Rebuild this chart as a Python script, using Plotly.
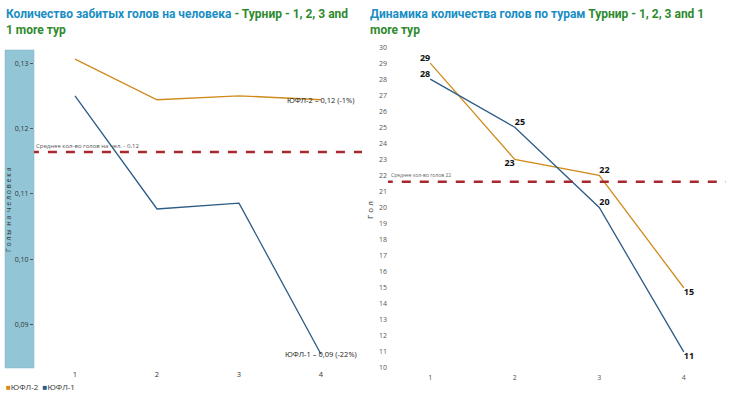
import plotly.graph_objects as go

rounds = [1, 2, 3, 4]
tick_labels = ["1", "2", "3", "4"]

# Left: goals per person
per_person_yufl2 = [0.1306, 0.1244, 0.1250, 0.1244]
per_person_yufl1 = [0.1250, 0.1077, 0.1086, 0.0855]
per_person_mean = 0.1164

# Right: goals per round
goals_yufl2 = [29, 23, 22, 15]
goals_yufl1 = [28, 25, 20, 11]
goals_mean = 21.6

ORANGE = "#d08a1c"
BLUE = "#2c5b86"
MEANC = "#a8282e"
FONT = "Open Sans"
TFONT = "Roboto"

W, H = 730, 395
def px(x):
    return x / W
def py(y):
    return 1 - y / H

fig = go.Figure()

# left series
fig.add_trace(go.Scatter(x=rounds, y=per_person_yufl2, mode="lines", line=dict(color=ORANGE, width=1.3),
                         xaxis="x", yaxis="y", name="ЮФЛ-2", showlegend=False))
fig.add_trace(go.Scatter(x=rounds, y=per_person_yufl1, mode="lines", line=dict(color=BLUE, width=1.3),
                         xaxis="x", yaxis="y", name="ЮФЛ-1", showlegend=False))
fig.add_trace(go.Scatter(x=[0.45, 4.6], y=[per_person_mean] * 2, mode="lines",
                         line=dict(color=MEANC, width=2.5, dash="dash"),
                         xaxis="x", yaxis="y", showlegend=False, hoverinfo="skip"))

# right series
pos2 = ["top left", "bottom left", "top right", "bottom right"]
pos1 = ["top left", "top right", "top right", "bottom right"]
fig.add_trace(go.Scatter(x=rounds, y=goals_yufl2, mode="lines+text", line=dict(color=ORANGE, width=1.3),
                         text=["<b>%d</b>" % v for v in goals_yufl2], textposition=pos2,
                         textfont=dict(size=9, color="#111", family=FONT),
                         xaxis="x2", yaxis="y2", showlegend=False))
fig.add_trace(go.Scatter(x=rounds, y=goals_yufl1, mode="lines+text", line=dict(color=BLUE, width=1.3),
                         text=["<b>%d</b>" % v for v in goals_yufl1], textposition=pos1,
                         textfont=dict(size=9, color="#111", family=FONT),
                         xaxis="x2", yaxis="y2", showlegend=False))
fig.add_trace(go.Scatter(x=[0.45, 4.6], y=[goals_mean] * 2, mode="lines",
                         line=dict(color=MEANC, width=2.5, dash="dash"),
                         xaxis="x2", yaxis="y2", showlegend=False, hoverinfo="skip"))

axis_common = dict(showgrid=False, zeroline=False, showline=False)

fig.update_layout(
    width=W, height=H,
    margin=dict(l=0, r=0, t=0, b=0),
    paper_bgcolor="white", plot_bgcolor="white",
    separators=", ",
    font=dict(family=FONT, size=8, color="#444"),
    xaxis=dict(domain=[px(34), px(362)], range=[0.5, 4.5], tickvals=rounds, ticktext=tick_labels,
               tickfont=dict(size=7.5, color="#333"), **axis_common),
    yaxis=dict(domain=[py(368), py(50)], range=[0.0834, 0.1320], tickvals=[0.09, 0.10, 0.11, 0.12, 0.13],
               tickformat=".2f", ticks="outside", ticklen=3, tickcolor="#555",
               tickfont=dict(size=7, color="#333"), anchor="x", **axis_common),
    xaxis2=dict(domain=[px(388), px(726)], range=[0.5, 4.5], tickvals=rounds, ticktext=tick_labels,
                tickfont=dict(size=7, color="#555"), anchor="y2", **axis_common),
    yaxis2=dict(domain=[py(372), py(40)], range=[9.75, 30.44], tickvals=list(range(10, 31)),
                tickfont=dict(size=7, color="#555"), anchor="x2", **axis_common),
)

# left blue band for y axis
fig.add_shape(type="rect", xref="paper", yref="paper", x0=px(5), x1=px(34), y0=py(368), y1=py(50),
              fillcolor="#92c6d6", line=dict(width=0.5, color="#7fb3c4"), layer="below")

# titles
fig.add_annotation(xref="paper", yref="paper", x=px(4), y=py(5), xanchor="left", yanchor="top", align="left",
                   showarrow=False, font=dict(size=12, family=TFONT),
                   text="<b><span style='color:#1a8ec4'>Количество забитых голов на человека</span>"
                        "<span style='color:#2e8a2e'> - Турнир - 1, 2, 3 and<br>1 more тур</span></b>")
fig.add_annotation(xref="paper", yref="paper", x=px(368), y=py(5), xanchor="left", yanchor="top", align="left",
                   showarrow=False, font=dict(size=12, family=TFONT),
                   text="<b><span style='color:#1a8ec4'>Динамика количества голов по турам</span>"
                        "<span style='color:#2e8a2e'> Турнир - 1, 2, 3 and 1<br>more тур</span></b>")

# axis titles
fig.add_annotation(xref="paper", yref="paper", x=px(9), y=py(210), xanchor="center", yanchor="middle",
                   textangle=-90, showarrow=False,
                   text="Г о л ы  н а  ч е л о в е к а", font=dict(size=7, color="#333"))
fig.add_annotation(xref="paper", yref="paper", x=px(370), y=py(210), xanchor="center", yanchor="middle",
                   textangle=-90, showarrow=False,
                   text="Г о л", font=dict(size=8, color="#333"))

# mean labels
fig.add_annotation(xref="paper", yref="y", x=px(34), y=per_person_mean, xanchor="left", yanchor="bottom",
                   showarrow=False, text="Среднее кол-во голов на чел. - 0,12", font=dict(size=6, color="#555"))
fig.add_annotation(xref="paper", yref="y2", x=px(389), y=goals_mean, xanchor="left", yanchor="bottom",
                   showarrow=False, text="Среднее кол-во голов 22", font=dict(size=5, color="#666"),
                   yshift=1)

# end labels left
fig.add_annotation(xref="x", yref="y", x=4, y=per_person_yufl2[-1], xanchor="center", yanchor="middle",
                   showarrow=False, xshift=0, text="ЮФЛ-2 – 0,12 (-1%)", font=dict(size=7.5, color="#222"))
fig.add_annotation(xref="x", yref="y", x=4, y=per_person_yufl1[-1], xanchor="center", yanchor="middle",
                   showarrow=False, xshift=0, text="ЮФЛ-1 – 0,09 (-22%)", font=dict(size=7.5, color="#222"))

# legend
fig.add_annotation(xref="paper", yref="paper", x=px(4), y=py(386), xanchor="left", yanchor="middle",
                   showarrow=False, font=dict(size=8, color="#333"),
                   text="<span style='color:%s'>■</span>ЮФЛ-2  <span style='color:%s'>■</span>ЮФЛ-1" % (ORANGE, BLUE))

fig.write_html("out.html", config={"displayModeBar": False},
               post_script="document.body.style.margin='0px';document.body.style.overflow='hidden';")
